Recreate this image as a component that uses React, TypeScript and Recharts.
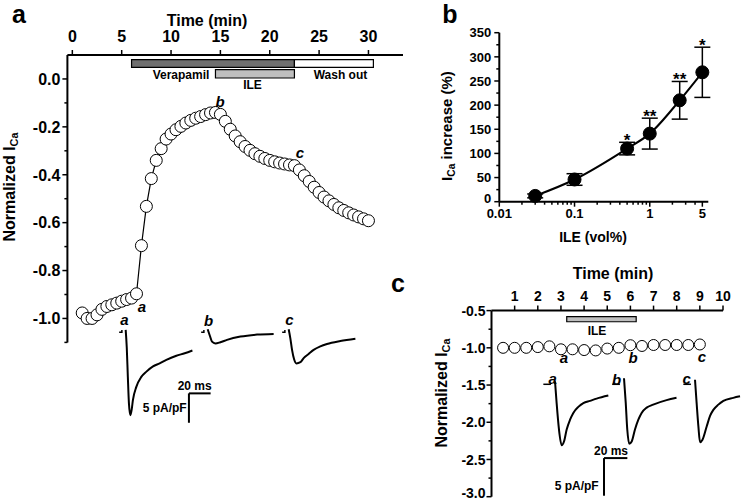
import React from "react";
import {
  LineChart,
  Line,
  XAxis,
  YAxis,
  ReferenceArea,
  ReferenceLine,
  ErrorBar,
  LabelList,
} from "recharts";

const FONT = "'Liberation Sans', Arial, Helvetica, sans-serif";

// ---------- panel a : time course (normalized ICa) ----------
const timeA = [
  1, 1.5, 2, 2.5, 3, 3.5, 4, 4.5, 5, 5.5, 6, 6.5, 7, 7.5, 8, 8.5, 9, 9.5, 10,
  10.5, 11, 11.5, 12, 12.5, 13, 13.5, 14, 14.5, 15, 15.5, 16, 16.5, 17, 17.5,
  18, 18.5, 19, 19.5, 20, 20.5, 21, 21.5, 22, 22.5, 23, 23.5, 24, 24.5, 25,
  25.5, 26, 26.5, 27, 27.5, 28, 28.5, 29, 29.5, 30,
];
const icaA = [
  -0.977, -1.0, -1.0, -0.985, -0.962, -0.95, -0.943, -0.936, -0.928, -0.921,
  -0.915, -0.897, -0.696, -0.532, -0.416, -0.34, -0.291, -0.251, -0.23, -0.212,
  -0.198, -0.184, -0.173, -0.164, -0.157, -0.149, -0.142, -0.14, -0.148,
  -0.177, -0.21, -0.238, -0.262, -0.282, -0.298, -0.312, -0.323, -0.332,
  -0.34, -0.346, -0.351, -0.355, -0.359, -0.362, -0.38, -0.404, -0.428,
  -0.452, -0.474, -0.493, -0.509, -0.524, -0.538, -0.549, -0.559, -0.568,
  -0.576, -0.584, -0.592,
];
const markA = [6, 14.5, 22.5];
const verapamilA = [6, 22.5];
const ileA = [14.5, 22.5];
const washA = [22.5, 30.5];
const tickTimeA = [0, 5, 10, 15, 20, 25, 30];
const tickIcaA = [0, -0.1, -0.2, -0.3, -0.4, -0.5, -0.6, -0.7, -0.8, -0.9, -1, -1.1];
const majorIcaA = [0, -0.2, -0.4, -0.6, -0.8, -1];

// current traces (ms, pA/pF) for panel a
const trAaMs = [0, 1, 2, 3, 4.3, 5.5, 6.7, 9.8, 14.4, 19.1, 25.2, 31.3, 37.5, 46.7, 54.4, 61.5];
const trAaI = [0, -3, -8, -12.5, -14.5, -13.6, -11.9, -9.7, -8.0, -7.1, -6.2, -5.7, -5.1, -4.4, -3.97, -3.5];
const trAbMs = [0, 2, 4, 7.1, 11.7, 17.8, 30.2, 45.5, 60.8];
const trAbI = [0.1, -1.0, -2.0, -2.3, -2.1, -1.7, -1.14, -0.8, -0.68];
const trAcMs = [0, 1.5, 3.1, 5, 7.1, 10.8, 13.8, 18.4, 23, 29.2, 35.3, 47.6, 61.5];
const trAcI = [0.1, -1.4, -3.4, -5.0, -5.7, -5.5, -4.8, -4.1, -3.4, -2.8, -2.4, -1.9, -1.5];
const holdAMs = [-6, -3.5, -3.5];
const holdAI = [-0.4, -0.4, 0];

// ---------- panel b : concentration dependence ----------
const ileConc = [0.03, 0.1, 0.5, 1, 2.5, 5];
const icaIncrease = [12, 46, 110, 141, 210, 268];
const icaSem = [4, 12, 13, 32, 39, 52];
const significance = ["", "", "*", "**", "**", "*"];
const tickConc = [
  0.01, 0.02, 0.03, 0.04, 0.05, 0.06, 0.07, 0.08, 0.09, 0.1, 0.2, 0.3, 0.4,
  0.5, 0.6, 0.7, 0.8, 0.9, 1, 2, 3, 4, 5,
];
const majorConc = [0.01, 0.1, 1, 5];
const tickIncrease = [0, 25, 50, 75, 100, 125, 150, 175, 200, 225, 250, 275, 300, 325, 350];
const majorIncrease = [0, 50, 100, 150, 200, 250, 300, 350];

// ---------- panel c : ILE alone ----------
const timeC = [0.5, 1, 1.5, 2, 2.5, 3, 3.5, 4, 4.5, 5, 5.5, 6, 6.5, 7, 7.5, 8, 8.5, 9];
const icaC = [
  -1.0, -1.0, -1.0, -0.99, -0.98, -1.02, -1.02, -1.03, -1.035, -1.01, -1.0,
  -0.965, -0.975, -0.962, -0.962, -0.962, -0.962, -0.955,
];
const markC = [3, 6, 9];
const ileC = [3.25, 6.25];
const tickTimeC = [1, 2, 3, 4, 5, 6, 7, 8, 9, 10];
const tickIcaC = [-0.5, -0.75, -1, -1.25, -1.5, -1.75, -2, -2.25, -2.5, -2.75, -3];
const majorIcaC = [-0.5, -1, -1.5, -2, -2.5, -3];

const trCaMs = [0, 1.4, 3.4, 5.7, 7.7, 10, 12.9, 15.7, 20, 24.3, 30, 35.7, 45.7];
const trCaI = [-0.1, -3.0, -6.5, -8.6, -8.1, -6.5, -5.2, -4.3, -3.5, -3.0, -2.7, -2.4, -2.0];
const trCbMs = [0, 1.5, 2.8, 4.5, 6.6, 9.4, 12.3, 15.1, 19.4, 25, 36.5, 45];
const trCbI = [0.3, -3.0, -6.5, -8.4, -8.1, -6.5, -5.2, -4.3, -3.6, -3.2, -2.6, -2.3];
const trCcMs = [0, 1.4, 2.9, 4.3, 6.3, 10, 12.9, 15.7, 20, 24.3, 32.8, 38.6];
const trCcI = [0.1, -3.0, -6.1, -8.2, -7.9, -6.1, -4.7, -3.9, -3.2, -2.7, -2.3, -2.1];
const holdCMs = [-10, -3.5];
const holdCI = [-0.5, -0.5];

const SCALE_MS = 20;
const SCALE_PA = 5;

// ---------- helpers ----------
const zipTrace = (ms: number[], cur: number[]) => ms.map((m, k) => ({ ms: m, i: cur[k] }));
const isIn = (arr: number[], v: number) => arr.some((m) => Math.abs(m - v) < 1e-9);

// left axis tick: long tick + label on majors, short tick on minors
const leftTick =
  (major: number[], size: number, off: number, fmt: (v: number) => string, maxY = Infinity) =>
  (p: any) => {
    const v = p.payload.value;
    const big = isIn(major, v);
    return (
      <g>
        <line x1={p.x} y1={p.y} x2={p.x - (big ? 5 : 3)} y2={p.y} stroke="#000" strokeWidth={1.5} />
        {big && (
          <text
            x={p.x - off}
            y={Math.min(p.y, maxY)}
            dy="0.36em"
            textAnchor="end"
            fontSize={size}
            fontWeight="bold"
            fontFamily={FONT}
            fill="#000"
          >
            {fmt(v)}
          </text>
        )}
      </g>
    );
  };

const topTick = (size: number, off: number) => (p: any) => (
  <g>
    <line x1={p.x} y1={p.y} x2={p.x} y2={p.y - 5} stroke="#000" strokeWidth={1.5} />
    <text x={p.x} y={p.y - off} textAnchor="middle" fontSize={size} fontWeight="bold" fontFamily={FONT} fill="#000">
      {p.payload.value}
    </text>
  </g>
);

const bottomTick = (major: number[], size: number, off: number) => (p: any) => {
  const v = p.payload.value;
  const big = isIn(major, v);
  return (
    <g>
      <line x1={p.x} y1={p.y} x2={p.x} y2={p.y + (big ? 5 : 3)} stroke="#000" strokeWidth={1.5} />
      {big && (
        <text x={p.x} y={p.y + off} textAnchor="middle" fontSize={size} fontWeight="bold" fontFamily={FONT} fill="#000">
          {String(v)}
        </text>
      )}
    </g>
  );
};

const Box = ({ left, top, children }: any) => (
  <div style={{ position: "absolute", left, top }}>{children}</div>
);

const Txt = ({ x, y, size = 12, italic = false, weight = "bold", rotate = 0, children }: any) => (
  <div
    style={{
      position: "absolute",
      left: x,
      top: y,
      transform: `translate(-50%, -50%)${rotate ? ` rotate(${rotate}deg)` : ""}`,
      fontSize: size,
      fontWeight: weight,
      fontStyle: italic ? "italic" : "normal",
      lineHeight: 1,
      whiteSpace: "nowrap",
      color: "#000",
      fontFamily: FONT,
    }}
  >
    {children}
  </div>
);

const Sub = ({ children }: any) => (
  <span style={{ fontSize: "0.68em", position: "relative", top: "0.3em" }}>{children}</span>
);

// small chart holding current traces, placed so that (0 ms, 0 pA/pF) lands on (ox, oy)
const TraceBox = ({ ox, oy, pxMs, pxPA, xDom, yDom, traces, bar }: any) => {
  const w = (xDom[1] - xDom[0]) * pxMs;
  const h = (yDom[1] - yDom[0]) * pxPA;
  return (
    <Box left={ox + xDom[0] * pxMs} top={oy - yDom[1] * pxPA}>
      <LineChart width={w} height={h} margin={{ top: 0, right: 0, bottom: 0, left: 0 }}>
        <XAxis type="number" dataKey="ms" domain={xDom} hide />
        <YAxis type="number" dataKey="i" domain={yDom} hide />
        {traces.map((t: any, k: number) => (
          <Line
            key={k}
            data={t.data}
            dataKey="i"
            type={t.smooth ? "monotone" : "linear"}
            stroke="#000"
            strokeWidth={t.w}
            dot={false}
            isAnimationActive={false}
          />
        ))}
        {bar && (
          <ReferenceLine
            segment={[
              { x: bar[0], y: bar[1] },
              { x: bar[0] + SCALE_MS, y: bar[1] },
            ]}
            stroke="#000"
            strokeWidth={2}
          />
        )}
        {bar && (
          <ReferenceLine
            segment={[
              { x: bar[0], y: bar[1] },
              { x: bar[0], y: bar[1] - SCALE_PA },
            ]}
            stroke="#000"
            strokeWidth={2}
          />
        )}
      </LineChart>
    </Box>
  );
};

// ---------- panel a ----------
const A_W = 410;
const A_H = 352;
const A_LEFT = 67.4;
const A_RIGHT = 7;
const domTimeA: [number, number] = [-0.5, 33.5];
const PX_MS_A = 1.085;
const PX_PA_A = 5.88;

function PanelA() {
  const pts = timeA.map((t, k) => ({ t, v: icaA[k] }));
  const hold = zipTrace(holdAMs, holdAI);
  const barStyle = { fillOpacity: 1, stroke: "#000", strokeWidth: 1.2 };
  return (
    <>
      <Box left={0} top={60}>
        <LineChart width={A_W} height={373} data={markA.map((t) => ({ t }))} margin={{ top: 0, right: A_RIGHT, bottom: 0, left: A_LEFT }}>
          <XAxis type="number" dataKey="t" domain={domTimeA} hide />
          <YAxis type="number" domain={[0, 1]} hide />
          {markA.map((m) => (
            <ReferenceLine key={m} x={m} stroke="#808080" strokeWidth={0.8} strokeDasharray="1.5 1.5" />
          ))}
        </LineChart>
      </Box>
      <Box left={0} top={0}>
        <LineChart width={A_W} height={A_H} data={pts} margin={{ top: 0, right: A_RIGHT, bottom: 9.6, left: 0 }}>
          <XAxis
            orientation="top"
            type="number"
            dataKey="t"
            domain={domTimeA}
            ticks={tickTimeA}
            interval={0}
            height={55}
            tickSize={0}
            tickMargin={0}
            tickLine={false}
            axisLine={{ stroke: "#000", strokeWidth: 2 }}
            tick={topTick(16, 13)}
          />
          <YAxis
            type="number"
            domain={[-1.1, 0.1]}
            ticks={tickIcaA}
            interval={0}
            width={A_LEFT}
            tickSize={0}
            tickMargin={0}
            tickLine={false}
            axisLine={{ stroke: "#000", strokeWidth: 2 }}
            tick={leftTick(majorIcaA, 16, 7, (v) => v.toFixed(1))}
          />
          <ReferenceArea x1={verapamilA[0]} x2={verapamilA[1]} y1={0.048} y2={0.081} fill="#6f6f6f" {...barStyle} />
          <ReferenceArea x1={ileA[0]} x2={ileA[1]} y1={0.004} y2={0.039} fill="#bebebe" {...barStyle} />
          <ReferenceArea x1={washA[0]} x2={washA[1]} y1={0.048} y2={0.081} fill="#ffffff" {...barStyle} />
          <Line
            type="linear"
            dataKey="v"
            stroke="#000"
            strokeWidth={1.2}
            dot={{ r: 6, fill: "#fff", stroke: "#000", strokeWidth: 1 }}
            isAnimationActive={false}
          />
        </LineChart>
      </Box>
      <TraceBox
        ox={126}
        oy={330}
        pxMs={PX_MS_A}
        pxPA={PX_PA_A}
        xDom={[-8, 82]}
        yDom={[-17, 1]}
        bar={[58.3, -10.8]}
        traces={[
          { data: zipTrace(trAaMs, trAaI), smooth: true, w: 2 },
          { data: hold, smooth: false, w: 1.5 },
        ]}
      />
      <TraceBox
        ox={207.3}
        oy={330}
        pxMs={PX_MS_A}
        pxPA={PX_PA_A}
        xDom={[-8, 64]}
        yDom={[-7, 1]}
        traces={[
          { data: zipTrace(trAbMs, trAbI), smooth: true, w: 2 },
          { data: hold, smooth: false, w: 1.5 },
        ]}
      />
      <TraceBox
        ox={288.3}
        oy={330}
        pxMs={PX_MS_A}
        pxPA={PX_PA_A}
        xDom={[-8, 64]}
        yDom={[-7, 1]}
        traces={[
          { data: zipTrace(trAcMs, trAcI), smooth: true, w: 2 },
          { data: hold, smooth: false, w: 1.5 },
        ]}
      />
      <Txt x={19} y={13.5} size={25}>a</Txt>
      <Txt x={207} y={21} size={16}>Time (min)</Txt>
      <Txt x={10} y={187} size={16} rotate={-90}>
        Normalized I<Sub>Ca</Sub>
      </Txt>
      <Txt x={181} y={75}>Verapamil</Txt>
      <Txt x={252.5} y={85}>ILE</Txt>
      <Txt x={340.5} y={75}>Wash out</Txt>
      <Txt x={142} y={306} size={15} italic>a</Txt>
      <Txt x={220} y={101} size={15} italic>b</Txt>
      <Txt x={300} y={152} size={15} italic>c</Txt>
      <Txt x={124.5} y={319} size={15} italic>a</Txt>
      <Txt x={208.5} y={320} size={15} italic>b</Txt>
      <Txt x={289.5} y={319} size={15} italic>c</Txt>
      <Txt x={194.7} y={386}>20 ms</Txt>
      <Txt x={164.7} y={407.5}>5 pA/pF</Txt>
    </>
  );
}

// ---------- panel b ----------
function PanelB() {
  const pts = ileConc.map((c, k) => ({ x: c, y: icaIncrease[k], err: icaSem[k] }));
  const stars = ileConc.map((c, k) => ({ x: c, top: icaIncrease[k] + icaSem[k], sig: significance[k] }));
  return (
    <>
      <Box left={440} top={0}>
        <LineChart width={302} height={240} margin={{ top: 32.7, right: 33.7, bottom: 0, left: 0 }}>
          <XAxis
            type="number"
            scale="log"
            dataKey="x"
            domain={[0.01, 6]}
            ticks={tickConc}
            interval={0}
            height={38.3}
            tickSize={0}
            tickMargin={0}
            tickLine={false}
            axisLine={{ stroke: "#000", strokeWidth: 2 }}
            tick={bottomTick(majorConc, 13, 16)}
          />
          <YAxis
            type="number"
            domain={[0, 350]}
            ticks={tickIncrease}
            interval={0}
            width={59.3}
            tickSize={0}
            tickMargin={0}
            tickLine={false}
            axisLine={{ stroke: "#000", strokeWidth: 2 }}
            tick={leftTick(majorIncrease, 13, 8, (v) => String(v), 198.5)}
          />
          <Line
            data={pts}
            dataKey="y"
            type="monotone"
            stroke="#000"
            strokeWidth={2}
            dot={{ r: 6.5, fill: "#000", stroke: "#000", strokeWidth: 1 }}
            isAnimationActive={false}
          >
            <ErrorBar dataKey="err" width={8} stroke="#000" strokeWidth={1.5} direction="y" />
          </Line>
          <Line data={stars} dataKey="top" stroke="none" dot={false} isAnimationActive={false}>
            <LabelList dataKey="sig" position="top" offset={-4} fontSize={17} fontWeight="bold" fontFamily={FONT} fill="#000" />
          </Line>
        </LineChart>
      </Box>
      <Txt x={450} y={13.5} size={25}>b</Txt>
      <Txt x={446.7} y={126} size={15} rotate={-90}>
        I<Sub>Ca</Sub> increase (%)
      </Txt>
      <Txt x={593} y={237} size={14}>ILE (vol%)</Txt>
    </>
  );
}

// ---------- panel c ----------
const PX_MS_C = 1.167;
const PX_PA_C = 7.53;

function PanelC() {
  const pts = timeC.map((t, k) => ({ t, v: icaC[k] }));
  const hold = zipTrace(holdCMs, holdCI);
  return (
    <>
      <Box left={420} top={340}>
        <LineChart width={322} height={132} data={markC.map((t) => ({ t }))} margin={{ top: 0, right: 19, bottom: 0, left: 71.5 }}>
          <XAxis type="number" dataKey="t" domain={[0, 10]} hide />
          <YAxis type="number" domain={[0, 1]} hide />
          {markC.map((m) => (
            <ReferenceLine key={m} x={m} stroke="#a0a0a0" strokeWidth={0.8} strokeDasharray="1.5 1.5" />
          ))}
        </LineChart>
      </Box>
      <Box left={420} top={250}>
        <LineChart width={322} height={252} data={pts} margin={{ top: 0, right: 19, bottom: 5.3, left: 0 }}>
          <XAxis
            orientation="top"
            type="number"
            dataKey="t"
            domain={[0, 10]}
            ticks={tickTimeC}
            interval={0}
            height={60.6}
            tickSize={0}
            tickMargin={0}
            tickLine={false}
            axisLine={{ stroke: "#000", strokeWidth: 2 }}
            tick={topTick(14, 10)}
          />
          <YAxis
            type="number"
            domain={[-3, -0.5]}
            ticks={tickIcaC}
            interval={0}
            width={71.5}
            tickSize={0}
            tickMargin={0}
            tickLine={false}
            axisLine={{ stroke: "#000", strokeWidth: 2 }}
            tick={leftTick(majorIcaC, 14, 6, (v) => v.toFixed(1), 242.5)}
          />
          <ReferenceArea x1={ileC[0]} x2={ileC[1]} y1={-0.65} y2={-0.58} fill="#bebebe" fillOpacity={1} stroke="#000" strokeWidth={1.2} />
          <Line
            type="linear"
            dataKey="v"
            stroke="none"
            dot={{ r: 5.5, fill: "#fff", stroke: "#000", strokeWidth: 1 }}
            isAnimationActive={false}
          />
        </LineChart>
      </Box>
      <TraceBox
        ox={555}
        oy={381}
        pxMs={PX_MS_C}
        pxPA={PX_PA_C}
        xDom={[-12, 64]}
        yDom={[-16, 1]}
        bar={[42, -10.3]}
        traces={[
          { data: zipTrace(trCaMs, trCaI), smooth: true, w: 2 },
          { data: hold, smooth: false, w: 1.5 },
        ]}
      />
      <TraceBox
        ox={624}
        oy={381}
        pxMs={PX_MS_C}
        pxPA={PX_PA_C}
        xDom={[-12, 50]}
        yDom={[-10, 1]}
        traces={[
          { data: zipTrace(trCbMs, trCbI), smooth: true, w: 2 },
          { data: hold, smooth: false, w: 1.5 },
        ]}
      />
      <TraceBox
        ox={695}
        oy={381}
        pxMs={PX_MS_C}
        pxPA={PX_PA_C}
        xDom={[-12, 45]}
        yDom={[-10, 1]}
        traces={[
          { data: zipTrace(trCcMs, trCcI), smooth: true, w: 2 },
          { data: hold, smooth: false, w: 1.5 },
        ]}
      />
      <Txt x={398} y={283} size={25}>c</Txt>
      <Txt x={613} y={274} size={16}>Time (min)</Txt>
      <Txt x={441.7} y={393} size={16} rotate={-90}>
        Normalized I<Sub>Ca</Sub>
      </Txt>
      <Txt x={597} y={331}>ILE</Txt>
      <Txt x={564} y={357} size={15} italic>a</Txt>
      <Txt x={633} y={357} size={15} italic>b</Txt>
      <Txt x={702} y={356} size={15} italic>c</Txt>
      <Txt x={552.7} y={378} size={15} italic>a</Txt>
      <Txt x={616.7} y={379} size={15} italic>b</Txt>
      <Txt x={686.7} y={378} size={15} italic>c</Txt>
      <Txt x={611} y={451}>20 ms</Txt>
      <Txt x={576.7} y={486}>5 pA/pF</Txt>
    </>
  );
}

export default function App() {
  return (
    <div
      style={{
        position: "absolute",
        left: 0,
        top: 0,
        width: 742,
        height: 502,
        background: "#fff",
        overflow: "hidden",
        fontFamily: FONT,
      }}
    >
      <PanelA />
      <PanelB />
      <PanelC />
    </div>
  );
}
